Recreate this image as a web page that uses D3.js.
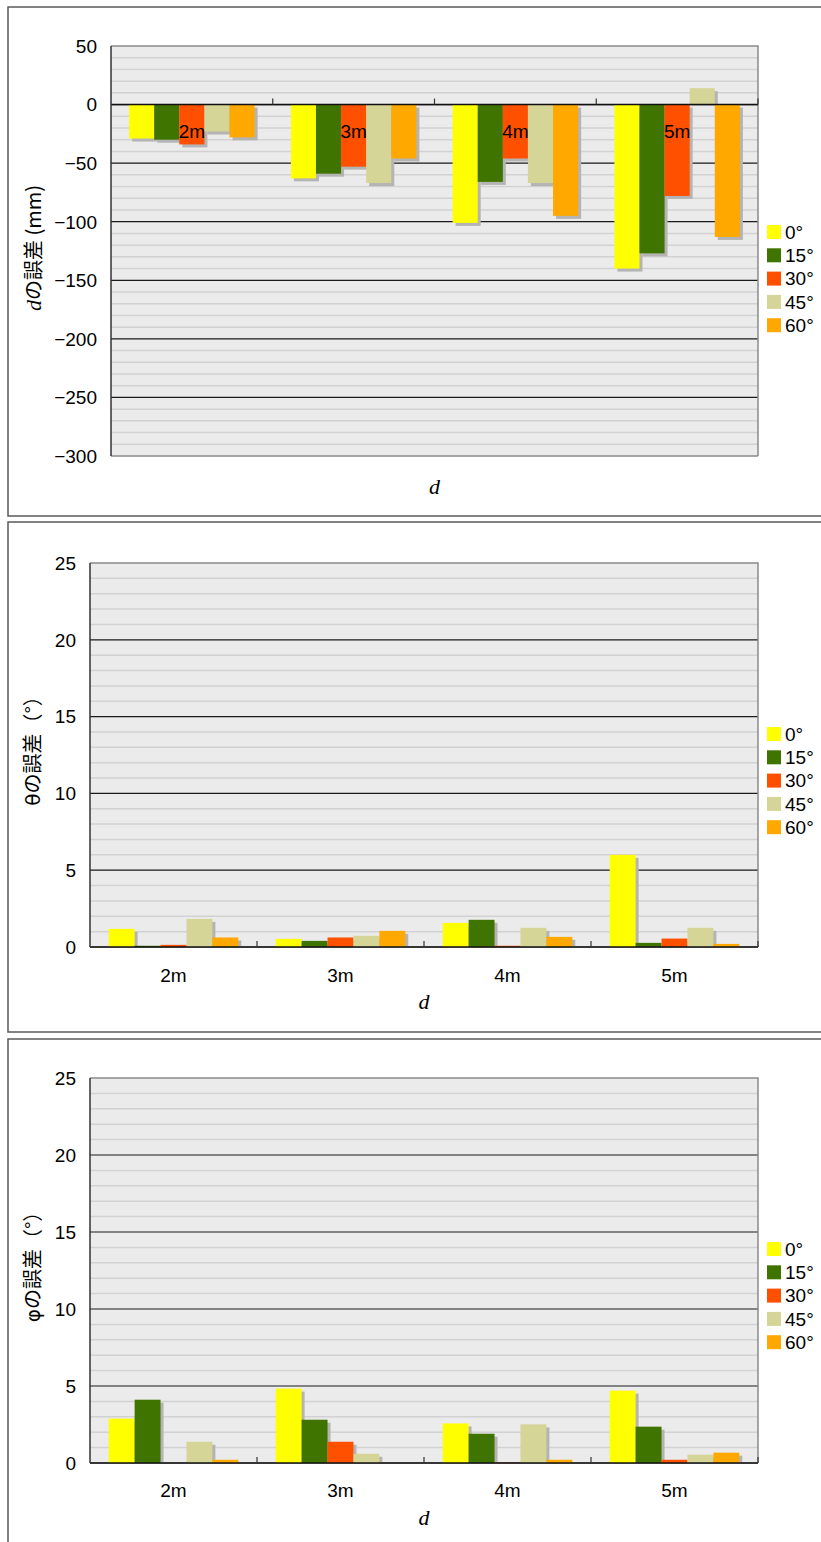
<!DOCTYPE html>
<html>
<head>
<meta charset="utf-8">
<script src="https://cdn.jsdelivr.net/npm/d3@7/dist/d3.min.js"></script>
<style>
  html, body { margin: 0; padding: 0; background: #ffffff; }
  svg { display: block; }
  .tick-label { font-family: "Liberation Sans", Arial, sans-serif; font-size: 19px; fill: #000; }
  .jp { font-family: "Noto Sans CJK JP", sans-serif; font-size: 20px; fill: #000; }
  .greek { font-family: "DejaVu Sans", sans-serif; font-size: 20px; fill: #000; }
  .var { font-family: "Liberation Serif", "DejaVu Serif", serif; font-style: italic; font-size: 22px; fill: #000; }
</style>
</head>
<body>
<svg id="chart" width="821" height="1542"></svg>
<script>
// Distances and incidence angles
const categories = ["2m", "3m", "4m", "5m"];
const seriesNames = ["0°", "15°", "30°", "45°", "60°"];
const seriesColors = ["#FFFF00", "#407400", "#FF5000", "#D5D597", "#FFA800"];

// Error of d (mm): one array per angle, values for 2m..5m
const dErr0  = [-29, -63, -101, -140];
const dErr15 = [-30, -59, -66, -127];
const dErr30 = [-34, -53, -46, -78];
const dErr45 = [-23, -67, -67, 14];
const dErr60 = [-28, -46, -95, -113];

// Error of θ (°)
const thErr0  = [1.18, 0.53, 1.57, 6.0];
const thErr15 = [0.08, 0.40, 1.77, 0.27];
const thErr30 = [0.14, 0.62, 0.08, 0.55];
const thErr45 = [1.83, 0.73, 1.25, 1.25];
const thErr60 = [0.62, 1.05, 0.66, 0.20];

// Error of φ (°)
const phErr0  = [2.88, 4.83, 2.57, 4.70];
const phErr15 = [4.11, 2.81, 1.90, 2.36];
const phErr30 = [0.00, 1.38, 0.03, 0.21];
const phErr45 = [1.38, 0.60, 2.51, 0.54];
const phErr60 = [0.21, 0.00, 0.21, 0.67];

// Axis ticks
const dTicks = [50, 0, -50, -100, -150, -200, -250, -300];
const angTicks = [0, 5, 10, 15, 20, 25];

const svg = d3.select("#chart");

function drawPanel(cfg) {
  const g = svg.append("g");
  // outer frame
  g.append("rect")
    .attr("x", cfg.frame.x).attr("y", cfg.frame.y)
    .attr("width", cfg.frame.w).attr("height", cfg.frame.h)
    .attr("fill", "#fff").attr("stroke", "#5a5a5a").attr("stroke-width", 1.5);

  const m = cfg.plot;
  const y = d3.scaleLinear().domain(cfg.domain).range([m.bottom, m.top]);
  const x0 = d3.scaleBand().domain(categories).range([m.left, m.right]).paddingInner(0).paddingOuter(0);
  const pad = x0.bandwidth() * 0.112;
  const x1 = d3.scaleBand().domain(d3.range(seriesNames.length)).range([pad, x0.bandwidth() - pad]);

  // plot background
  g.append("rect")
    .attr("x", m.left).attr("y", m.top)
    .attr("width", m.right - m.left).attr("height", m.bottom - m.top)
    .attr("fill", "#EBEBEB");

  // minor gridlines
  const minor = d3.range(cfg.domain[0], cfg.domain[1] + 1e-9, cfg.minorStep)
    .filter(v => Math.abs(v / cfg.majorStep - Math.round(v / cfg.majorStep)) > 1e-6);
  g.selectAll(".minor").data(minor).join("line")
    .attr("x1", m.left).attr("x2", m.right)
    .attr("y1", d => y(d)).attr("y2", d => y(d))
    .attr("stroke", "#D2D2D2").attr("stroke-width", 1.5);

  // major gridlines
  g.selectAll(".major").data(cfg.ticks.filter(v => v !== cfg.domain[0] && v !== cfg.domain[1])).join("line")
    .attr("x1", m.left).attr("x2", m.right)
    .attr("y1", d => y(d)).attr("y2", d => y(d))
    .attr("stroke", "#1a1a1a").attr("stroke-width", 1.2);

  // plot frame (top, right, bottom)
  g.append("path")
    .attr("d", `M${m.left},${m.top}H${m.right}V${m.bottom}`)
    .attr("fill", "none").attr("stroke", "#8a8a8a").attr("stroke-width", 1.5);
  g.append("line")
    .attr("x1", m.left).attr("x2", m.right).attr("y1", m.bottom).attr("y2", m.bottom)
    .attr("stroke", "#8a8a8a").attr("stroke-width", 1.5);

  // bars with drop shadows
  const table = cfg.series;
  const groups = g.selectAll(".grp").data(categories).join("g")
    .attr("transform", c => `translate(${x0(c)},0)`);
  const zero = y(0);
  const barData = (c, ci) => table.map((vals, si) => ({ si, v: vals[ci] }));
  groups.selectAll(".shadow").data((c, ci) => barData(c, ci)).join("rect")
    .attr("x", d => x1(d.si) + 3)
    .attr("y", d => Math.min(y(d.v), zero) + 3)
    .attr("width", x1.bandwidth())
    .attr("height", d => Math.max(0, Math.abs(y(d.v) - zero) - (d.v >= 0 ? 3 : 0)))
    .attr("fill", "#B4B4B4");
  groups.selectAll(".bar").data((c, ci) => barData(c, ci)).join("rect")
    .attr("x", d => x1(d.si))
    .attr("y", d => Math.min(y(d.v), zero))
    .attr("width", x1.bandwidth())
    .attr("height", d => Math.abs(y(d.v) - zero))
    .attr("fill", d => seriesColors[d.si]);

  // category axis line at zero with tick marks between categories
  const axisY = y(0);
  g.append("line")
    .attr("x1", m.left).attr("x2", m.right).attr("y1", axisY).attr("y2", axisY)
    .attr("stroke", "#111").attr("stroke-width", 1.5);
  const tickXs = categories.slice(1).map(c => x0(c)).concat([m.right]);
  g.selectAll(".ctick").data(tickXs).join("line")
    .attr("x1", d => d).attr("x2", d => d)
    .attr("y1", axisY - 6).attr("y2", axisY)
    .attr("stroke", "#333").attr("stroke-width", 1.2);

  // value axis line
  g.append("line")
    .attr("x1", m.left).attr("x2", m.left).attr("y1", m.top).attr("y2", m.bottom)
    .attr("stroke", "#333").attr("stroke-width", 1.5);

  // value tick labels
  g.selectAll(".ylab").data(cfg.ticks).join("text")
    .attr("class", "tick-label")
    .attr("x", m.left - 14).attr("y", d => y(d))
    .attr("dy", "0.36em").attr("text-anchor", "end")
    .text(d => d < 0 ? "\u2212" + Math.abs(d) : String(d));

  // category labels
  g.selectAll(".xlab").data(categories).join("text")
    .attr("class", "tick-label")
    .attr("x", c => x0(c) + x0.bandwidth() / 2)
    .attr("y", cfg.catLabelY)
    .attr("dy", "0.36em").attr("text-anchor", "middle")
    .text(c => c);

  // x-axis title
  g.append("text").attr("class", "var")
    .attr("x", (m.left + m.right) / 2).attr("y", cfg.xTitleY)
    .attr("dy", "0.36em").attr("text-anchor", "middle")
    .text("d");

  // y-axis title (rotated)
  const yt = g.append("text")
    .attr("transform", `translate(${cfg.yTitleX},${cfg.yTitleY}) rotate(-90)`)
    .attr("text-anchor", "middle").attr("dy", "0.36em");
  cfg.yTitle.forEach(part => {
    yt.append("tspan").attr("class", part.cls).text(part.t);
  });

  // legend
  const lg = g.append("g").attr("transform", `translate(767,${cfg.legendY})`);
  const items = lg.selectAll("g").data(seriesNames).join("g")
    .attr("transform", (d, i) => `translate(0,${i * 23.3})`);
  items.append("rect").attr("x", 0).attr("y", -7).attr("width", 14).attr("height", 14)
    .attr("fill", (d, i) => seriesColors[i]);
  items.append("text").attr("class", "tick-label")
    .attr("x", 18).attr("y", 0).attr("dy", "0.36em")
    .text(d => d);
}

drawPanel({
  frame: { x: 8, y: 7, w: 830, h: 509 },
  plot: { left: 111, right: 758, top: 46, bottom: 456 },
  domain: [-300, 50], ticks: dTicks, majorStep: 50, minorStep: 10,
  series: [dErr0, dErr15, dErr30, dErr45, dErr60],
  catLabelY: 131, xTitleY: 486,
  yTitleX: 35, yTitleY: 248,
  yTitle: [{ t: "d", cls: "var" }, { t: "の誤差 (mm)", cls: "jp" }],
  legendY: 232
});

drawPanel({
  frame: { x: 8, y: 522, w: 830, h: 510 },
  plot: { left: 90, right: 758, top: 563, bottom: 947 },
  domain: [0, 25], ticks: angTicks, majorStep: 5, minorStep: 1,
  series: [thErr0, thErr15, thErr30, thErr45, thErr60],
  catLabelY: 975, xTitleY: 1001,
  yTitleX: 34, yTitleY: 746,
  yTitle: [{ t: "θ", cls: "greek" }, { t: "の誤差（°）", cls: "jp" }],
  legendY: 734
});

drawPanel({
  frame: { x: 8, y: 1039, w: 830, h: 520 },
  plot: { left: 90, right: 758, top: 1078, bottom: 1463 },
  domain: [0, 25], ticks: angTicks, majorStep: 5, minorStep: 1,
  series: [phErr0, phErr15, phErr30, phErr45, phErr60],
  catLabelY: 1490, xTitleY: 1517,
  yTitleX: 34, yTitleY: 1262,
  yTitle: [{ t: "φ", cls: "greek" }, { t: "の誤差（°）", cls: "jp" }],
  legendY: 1249
});
</script>
</body>
</html>
